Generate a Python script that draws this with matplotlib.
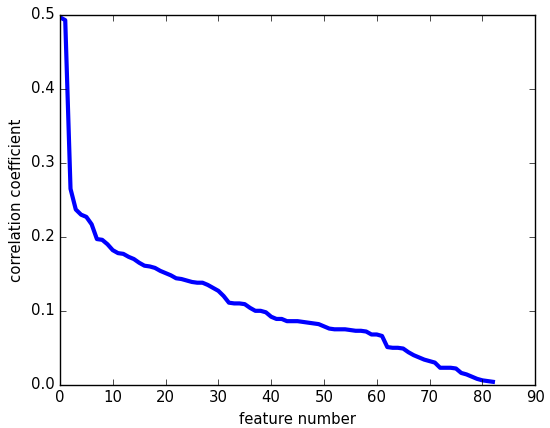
import matplotlib
matplotlib.use("Agg")
import matplotlib.pyplot as plt

# correlation coefficient per feature, sorted descending
feature = list(range(83))
corr = [0.497, 0.493, 0.265, 0.237, 0.230, 0.227, 0.217, 0.197, 0.196, 0.190,
        0.182, 0.178, 0.177, 0.173, 0.170, 0.165, 0.161, 0.160, 0.158, 0.154,
        0.151, 0.148, 0.144, 0.143, 0.141, 0.139, 0.138, 0.138, 0.135, 0.131,
        0.127, 0.120, 0.111, 0.110, 0.110, 0.109, 0.104, 0.100, 0.100, 0.098,
        0.092, 0.089, 0.089, 0.086, 0.086, 0.086, 0.085, 0.084, 0.083, 0.082,
        0.079, 0.076, 0.075, 0.075, 0.075, 0.074, 0.073, 0.073, 0.072, 0.068,
        0.068, 0.066, 0.051, 0.050, 0.050, 0.049, 0.044, 0.040, 0.037, 0.034,
        0.032, 0.030, 0.023, 0.023, 0.023, 0.022, 0.016, 0.014, 0.011, 0.008,
        0.006, 0.005, 0.004]


def main():
    plt.style.use("classic")
    plt.rcParams["font.size"] = 10.7
    fig = plt.figure(figsize=(5.5, 4.28), dpi=100, facecolor="white")
    ax = fig.add_axes([0.109, 0.101, 0.864, 0.864])
    ax.plot(feature, corr, color="b", linewidth=3)
    ax.set_xlim(0, 90)
    ax.set_ylim(0, 0.5)
    ax.set_xlabel("feature number")
    ax.set_ylabel("correlation coefficient")
    fig.savefig("out.png", dpi=100, facecolor="white")


if __name__ == "__main__":
    main()
